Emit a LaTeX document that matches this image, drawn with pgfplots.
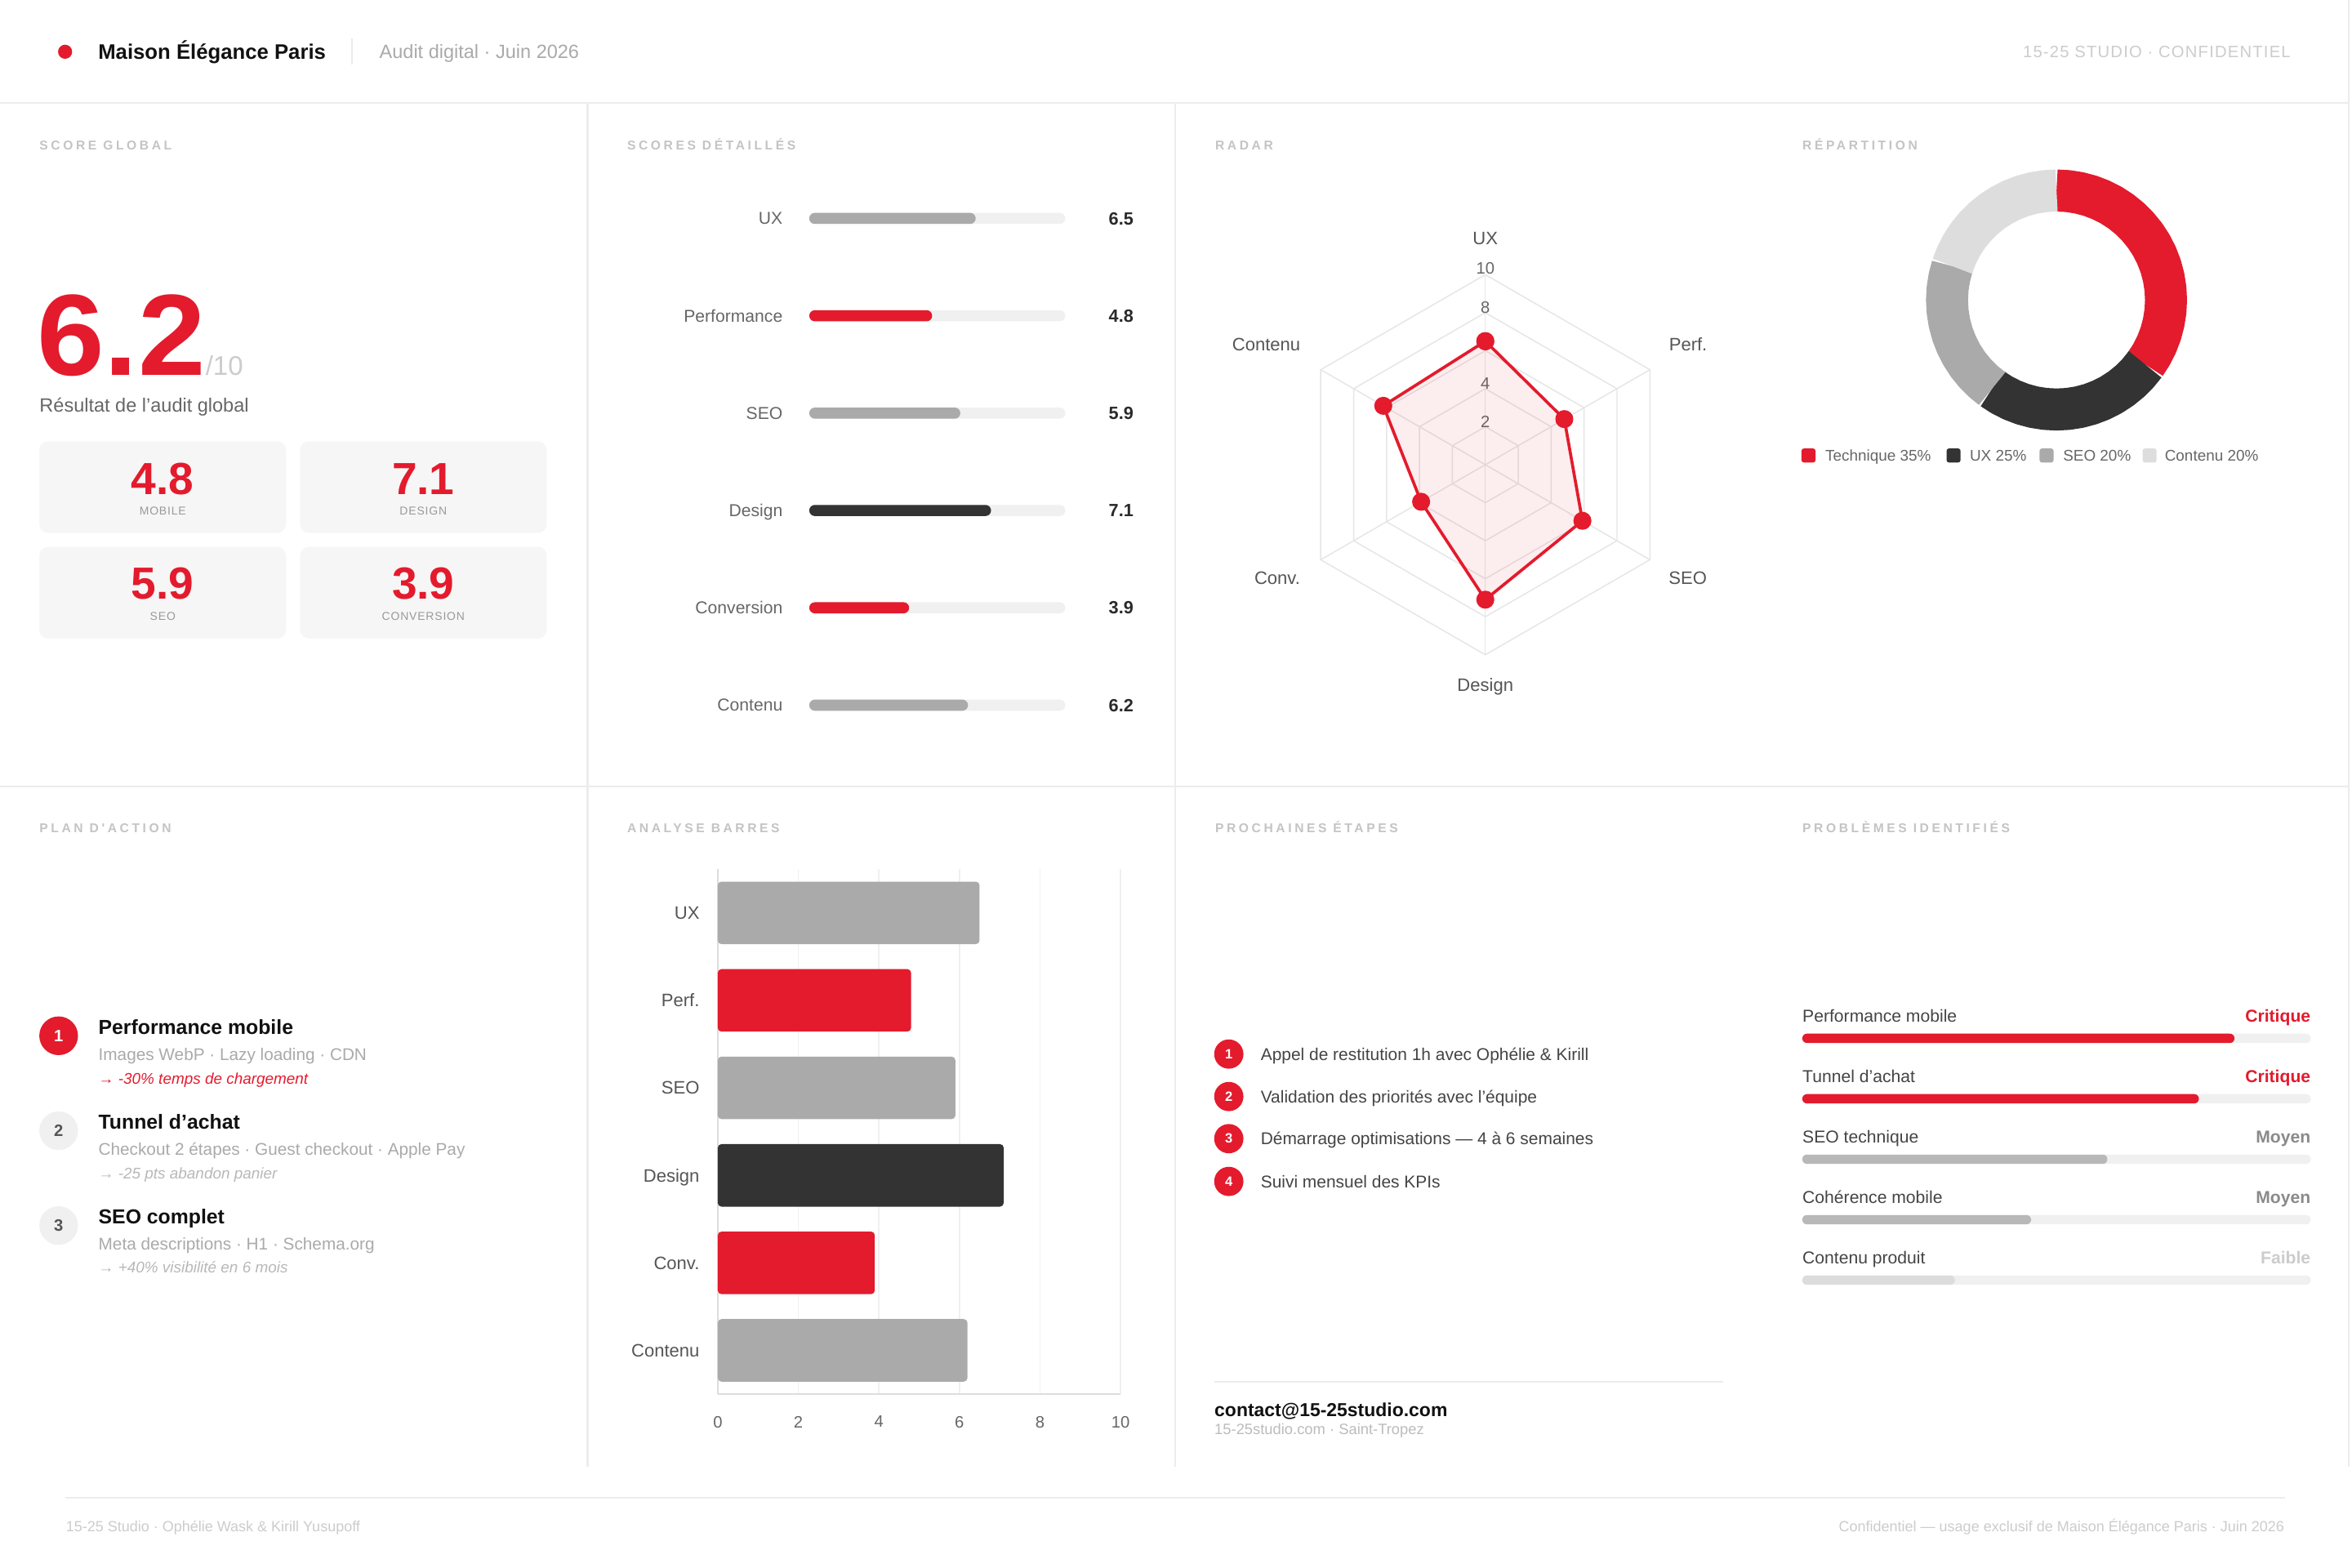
\documentclass[border=0pt]{standalone}
\usepackage{pgfplots}
\pgfplotsset{compat=1.18}
\usepgfplotslibrary{polar}
\usepackage{fontspec}
\setmainfont{Liberation Sans}
\newfontfamily\trk[LetterSpace=23]{Liberation Sans}
\newfontfamily\trks[LetterSpace=6]{Liberation Sans}
\newfontfamily\bigfont[FakeStretch=1.05]{Liberation Sans}
\newcommand\fs[1]{\fontsize{#1}{#1}\selectfont}
\definecolor{brand}{HTML}{E31B2D}
\definecolor{dark}{HTML}{333333}
\definecolor{midg}{HTML}{AAAAAA}
\definecolor{lightg}{HTML}{DDDDDD}
\definecolor{track}{HTML}{F0F0F0}
\definecolor{rule}{HTML}{ECECEC}
\definecolor{ttl}{HTML}{C4C4C4}
\definecolor{lab}{HTML}{666666}
\definecolor{lab5}{HTML}{555555}
\definecolor{txt}{HTML}{444444}
\definecolor{boxbg}{HTML}{F6F6F6}
\definecolor{subt}{HTML}{AAAAAA}
\definecolor{pale}{HTML}{CCCCCC}
\definecolor{ink}{HTML}{111111}
\definecolor{moy}{HTML}{B8B8B8}
\definecolor{fai}{HTML}{DCDCDC}
\definecolor{gridc}{HTML}{E6E6E6}
\definecolor{boxlab}{HTML}{999999}

\begin{document}
\begin{tikzpicture}[x=1pt,y=1pt,
  tx/.style={anchor=base west, inner sep=0pt},
  txe/.style={anchor=base east, inner sep=0pt},
  txc/.style={anchor=base, inner sep=0pt},
  ttlnode/.style={anchor=base west, inner sep=0pt, font=\trk\bfseries\fs{8.5}, text=ttl}]
\fill[white] (0,0) rectangle (1568,-1045);
\useasboundingbox (0,0) rectangle (1568,-1045);
% ---------- rules ----------
\draw[rule, line width=1.2pt] (0,-68.8) -- (1566,-68.8);
\draw[rule, line width=1.2pt] (0,-524.5) -- (1566,-524.5);
\draw[rule, line width=1.2pt] (391.7,-68.8) -- (391.7,-978);
\draw[rule, line width=1.2pt] (783.5,-68.8) -- (783.5,-978);
\draw[rule, line width=1.2pt] (1566,0) -- (1566,-978);
\draw[rule, line width=1pt] (43.8,-998.7) -- (1523.6,-998.7);
% ---------- header ----------
\fill[brand] (43.4,-34.5) circle (4.7);
\node[tx, font=\bfseries\fs{14}, text=ink] at (65.3,-39.6) {Maison Élégance Paris};
\draw[rule, line width=1pt] (234.8,-25.8) -- (234.8,-43);
\node[tx, font=\fs{12.8}, text=subt] at (252.8,-38.7) {Audit digital · Juin 2026};
\node[txe, font=\trks\fs{11}, text=pale] at (1527.2,-38.5) {15-25 STUDIO · CONFIDENTIEL};
% ---------- panel titles ----------
\node[ttlnode] at (26.2,-100) {SCORE GLOBAL};
\node[ttlnode] at (418,-100) {SCORES DÉTAILLÉS};
\node[ttlnode] at (810,-100) {RADAR};
\node[ttlnode] at (1201.5,-100) {RÉPARTITION};
\node[ttlnode] at (26.2,-555.2) {PLAN D'ACTION};
\node[ttlnode] at (418,-555.2) {ANALYSE BARRES};
\node[ttlnode] at (810,-555.2) {PROCHAINES ÉTAPES};
\node[ttlnode] at (1201.5,-555.2) {PROBLÈMES IDENTIFIÉS};
% ---------- score global ----------
\node[tx] at (24.5,-250) {\bigfont\fs{77}\bfseries\color{brand}6.2\normalfont\fs{18}\color{pale}/10};
\node[tx, font=\fs{12.8}, text=lab] at (26.2,-274.5) {Résultat de l'audit global};
\fill[boxbg, rounded corners=6pt] (26.2,-294.2) rectangle (190.7,-355.3);
\fill[boxbg, rounded corners=6pt] (200,-294.2) rectangle (364.5,-355.3);
\fill[boxbg, rounded corners=6pt] (26.2,-364.5) rectangle (190.7,-425.7);
\fill[boxbg, rounded corners=6pt] (200,-364.5) rectangle (364.5,-425.7);
\node[txc, font=\bfseries\fs{30}, text=brand] at (108.5,-329.4) {4.8};
\node[txc, font=\bfseries\fs{30}, text=brand] at (282.2,-329.4) {7.1};
\node[txc, font=\bfseries\fs{30}, text=brand] at (108.5,-399.3) {5.9};
\node[txc, font=\bfseries\fs{30}, text=brand] at (282.2,-399.3) {3.9};
\node[txc, font=\trks\fs{7.6}, text=boxlab] at (108.5,-343) {MOBILE};
\node[txc, font=\trks\fs{7.6}, text=boxlab] at (282.2,-343) {DESIGN};
\node[txc, font=\trks\fs{7.6}, text=boxlab] at (108.5,-413.6) {SEO};
\node[txc, font=\trks\fs{7.6}, text=boxlab] at (282.2,-413.6) {CONVERSION};

% ---------- scores detailles ----------
\begin{axis}[
  at={(539.5pt,-145.6pt)}, anchor=north west,
  scale only axis, width=170.7pt, height=324.5pt,
  xmin=0, xmax=10, ymin=0, ymax=5, y dir=reverse,
  clip=false, axis line style={draw=none}, major tick style={draw=none},
  xtick=\empty, ytick={0,1,2,3,4,5},
  yticklabels={UX,Performance,SEO,Design,Conversion,Contenu},
  yticklabel style={font=\fs{11.5}, text=lab, anchor=base east, inner sep=0pt, xshift=-13.3pt, yshift=-4.1pt},
  xbar, bar width=7.4pt, bar shift=0pt,
]
\addplot[fill=track, draw=none, rounded corners=3.7pt] coordinates {(10,0) (10,1) (10,2) (10,3) (10,4) (10,5)};
\addplot[fill=midg, draw=none, rounded corners=3.7pt] coordinates {(6.5,0) (5.9,2) (6.2,5)};
\addplot[fill=brand, draw=none, rounded corners=3.7pt] coordinates {(4.8,1) (3.9,4)};
\addplot[fill=dark, draw=none, rounded corners=3.7pt] coordinates {(7.1,3)};
\node[txe, font=\bfseries\fs{11.8}, text=ink!90, xshift=45.6pt, yshift=-4.2pt] at (axis cs:10,0) {6.5};
\node[txe, font=\bfseries\fs{11.8}, text=ink!90, xshift=45.6pt, yshift=-4.2pt] at (axis cs:10,1) {4.8};
\node[txe, font=\bfseries\fs{11.8}, text=ink!90, xshift=45.6pt, yshift=-4.2pt] at (axis cs:10,2) {5.9};
\node[txe, font=\bfseries\fs{11.8}, text=ink!90, xshift=45.6pt, yshift=-4.2pt] at (axis cs:10,3) {7.1};
\node[txe, font=\bfseries\fs{11.8}, text=ink!90, xshift=45.6pt, yshift=-4.2pt] at (axis cs:10,4) {3.9};
\node[txe, font=\bfseries\fs{11.8}, text=ink!90, xshift=45.6pt, yshift=-4.2pt] at (axis cs:10,5) {6.2};
\end{axis}

% ---------- radar ----------
\begin{polaraxis}[
  at={(990.2pt,-309.8pt)}, anchor=center,
  scale only axis, width=253.4pt, height=253.4pt,
  xmin=0, xmax=360, ymin=0, ymax=10, hide axis, clip=false,
]
\addplot[gridc, line width=0.8pt, mark=none] coordinates {(90,2)(30,2)(330,2)(270,2)(210,2)(150,2)(90,2)};
\addplot[gridc, line width=0.8pt, mark=none] coordinates {(90,4)(30,4)(330,4)(270,4)(210,4)(150,4)(90,4)};
\addplot[gridc, line width=0.8pt, mark=none] coordinates {(90,6)(30,6)(330,6)(270,6)(210,6)(150,6)(90,6)};
\addplot[gridc, line width=0.8pt, mark=none] coordinates {(90,8)(30,8)(330,8)(270,8)(210,8)(150,8)(90,8)};
\addplot[gridc, line width=0.8pt, mark=none] coordinates {(90,10)(30,10)(330,10)(270,10)(210,10)(150,10)(90,10)};
\addplot[gridc, line width=0.8pt, mark=none] coordinates {(90,10)(270,10)};
\addplot[gridc, line width=0.8pt, mark=none] coordinates {(30,10)(210,10)};
\addplot[gridc, line width=0.8pt, mark=none] coordinates {(150,10)(330,10)};
\node[inner sep=0pt, font=\fs{11}, text=lab, yshift=4.2pt] at (axis cs:90,10) {10};
\node[inner sep=0pt, font=\fs{11}, text=lab, yshift=3.6pt] at (axis cs:90,8) {8};
\node[inner sep=0pt, font=\fs{11}, text=lab, yshift=3.6pt] at (axis cs:90,6) {6};
\node[inner sep=0pt, font=\fs{11}, text=lab, yshift=3.6pt] at (axis cs:90,4) {4};
\node[inner sep=0pt, font=\fs{11}, text=lab, yshift=3.4pt] at (axis cs:90,2) {2};
\addplot[brand, line width=2pt, line join=round, fill=brand, fill opacity=0.08,
  mark=*, mark size=5pt, mark options={fill=brand, fill opacity=1, draw=brand}]
  coordinates {(90,6.5)(30,4.8)(330,5.9)(270,7.1)(210,3.9)(150,6.2)(90,6.5)};
\end{polaraxis}
\node[txc, font=\fs{12}, text=lab5] at (990.2,-162.9) {UX};
\node[txc, font=\fs{12}, text=lab5] at (1125.4,-233.6) {Perf.};
\node[txc, font=\fs{12}, text=lab5] at (1125.2,-389.8) {SEO};
\node[txc, font=\fs{12}, text=lab5] at (990.2,-460.6) {Design};
\node[txc, font=\fs{12}, text=lab5] at (851.5,-389.8) {Conv.};
\node[txc, font=\fs{12}, text=lab5] at (844.2,-233.6) {Contenu};

% ---------- donut ----------
\begin{polaraxis}[
  at={(1371pt,-200pt)}, anchor=center,
  scale only axis, width=174pt, height=174pt,
  xmin=0, xmax=360, ymin=0, ymax=87, hide axis, clip=false,
]
\addplot[brand, line width=28pt, line join=round, mark=none] coordinates {(450,73)(444,73)(438,73)(432,73)(426,73)(420,73)(414,73)(408,73)(402,73)(396,73)(390,73)(384,73)(378,73)(372,73)(366,73)(360,73)(354,73)(348,73)(342,73)(336,73)(330,73)(324,73)};
\addplot[dark, line width=28pt, line join=round, mark=none] coordinates {(324,73)(318,73)(312,73)(306,73)(300,73)(294,73)(288,73)(282,73)(276,73)(270,73)(264,73)(258,73)(252,73)(246,73)(240,73)(234,73)};
\addplot[midg, line width=28pt, line join=round, mark=none] coordinates {(234,73)(228,73)(222,73)(216,73)(210,73)(204,73)(198,73)(192,73)(186,73)(180,73)(174,73)(168,73)(162,73)};
\addplot[lightg, line width=28pt, line join=round, mark=none] coordinates {(162,73)(156,73)(150,73)(144,73)(138,73)(132,73)(126,73)(120,73)(114,73)(108,73)(102,73)(96,73)(90,73)};
\end{polaraxis}
\fill[brand, rounded corners=1.5pt] (1201,-299) rectangle (1210.3,-308.3);
\fill[dark, rounded corners=1.5pt] (1297.7,-299) rectangle (1307,-308.3);
\fill[midg, rounded corners=1.5pt] (1359.7,-299) rectangle (1369,-308.3);
\fill[lightg, rounded corners=1.5pt] (1428.4,-299) rectangle (1437.7,-308.3);
\node[tx, font=\fs{10.3}, text=lab] at (1216.7,-307.3) {Technique 35\%};
\node[tx, font=\fs{10.3}, text=lab] at (1313,-307.3) {UX 25\%};
\node[tx, font=\fs{10.3}, text=lab] at (1375.2,-307.3) {SEO 20\%};
\node[tx, font=\fs{10.3}, text=lab] at (1443,-307.3) {Contenu 20\%};

% ---------- plan d'action ----------
\fill[brand] (39.1,-690.5) circle (12.9);
\node[inner sep=0pt, font=\bfseries\fs{11}, text=white] at (39.1,-690.5) {1};
\fill[track] (39.1,-753.8) circle (12.9);
\node[inner sep=0pt, font=\bfseries\fs{11}, text=lab5] at (39.1,-753.8) {2};
\fill[track] (39.1,-817) circle (12.9);
\node[inner sep=0pt, font=\bfseries\fs{11}, text=lab5] at (39.1,-817) {3};
\node[tx, font=\bfseries\fs{13.5}, text=ink] at (65.5,-689.5) {Performance mobile};
\node[tx, font=\fs{11.3}, text=subt] at (65.5,-706.9) {Images WebP · Lazy loading · CDN};
\node[tx, font=\itshape\fs{10.3}, text=brand] at (65.5,-722.7) {→ -30\% temps de chargement};
\node[tx, font=\bfseries\fs{13.5}, text=ink] at (65.5,-752.7) {Tunnel d'achat};
\node[tx, font=\fs{11.3}, text=subt] at (65.5,-770) {Checkout 2 étapes · Guest checkout · Apple Pay};
\node[tx, font=\itshape\fs{10.3}, text=pale!90!black] at (65.5,-785.7) {→ -25 pts abandon panier};
\node[tx, font=\bfseries\fs{13.5}, text=ink] at (65.5,-816.1) {SEO complet};
\node[tx, font=\fs{11.3}, text=subt] at (65.5,-833.1) {Meta descriptions · H1 · Schema.org};
\node[tx, font=\itshape\fs{10.3}, text=pale!90!black] at (65.5,-848.7) {→ +40\% visibilité en 6 mois};

% ---------- analyse barres ----------
\begin{axis}[
  at={(478.5pt,-579.4pt)}, anchor=north west,
  scale only axis, width=268.5pt, height=350pt,
  xmin=0, xmax=10, ymin=-0.5, ymax=5.5, y dir=reverse,
  axis x line*=bottom, axis y line*=left,
  axis line style={draw=lightg, line width=0.9pt, -},
  xtick={0,2,4,6,8,10}, ytick={0,1,2,3,4,5},
  yticklabels={UX,Perf.,SEO,Design,Conv.,Contenu},
  major tick length=0pt,
  xmajorgrids, grid style={draw=track, line width=0.9pt},
  xticklabel style={font=\fs{11}, text=lab, inner sep=0pt, anchor=north, yshift=-14.5pt},
  yticklabel style={font=\fs{12}, text=lab5, anchor=base east, inner sep=0pt, xshift=-12pt, yshift=-4.3pt},
  /pgf/number format/assume math mode=true,
  xbar, bar width=41.7pt, bar shift=0pt, clip=false,
]
\addplot[fill=midg, draw=none, rounded corners=2.5pt] coordinates {(6.5,0) (5.9,2) (6.2,5)};
\addplot[fill=brand, draw=none, rounded corners=2.5pt] coordinates {(4.8,1) (3.9,4)};
\addplot[fill=dark, draw=none, rounded corners=2.5pt] coordinates {(7.1,3)};
\end{axis}

% ---------- prochaines etapes ----------
\fill[brand] (819.2,-702.7) circle (9.75);
\fill[brand] (819.2,-731) circle (9.75);
\fill[brand] (819.2,-759.1) circle (9.75);
\fill[brand] (819.2,-787.6) circle (9.75);
\node[inner sep=0pt, font=\bfseries\fs{9}, text=white] at (819.2,-702.7) {1};
\node[inner sep=0pt, font=\bfseries\fs{9}, text=white] at (819.2,-731) {2};
\node[inner sep=0pt, font=\bfseries\fs{9}, text=white] at (819.2,-759.1) {3};
\node[inner sep=0pt, font=\bfseries\fs{9}, text=white] at (819.2,-787.6) {4};
\node[tx, font=\fs{11.4}, text=txt] at (840.3,-706.8) {Appel de restitution 1h avec Ophélie \& Kirill};
\node[tx, font=\fs{11.4}, text=txt] at (840.3,-735.1) {Validation des priorités avec l'équipe};
\node[tx, font=\fs{11.4}, text=txt] at (840.3,-763.2) {Démarrage optimisations — 4 à 6 semaines};
\node[tx, font=\fs{11.4}, text=txt] at (840.3,-791.7) {Suivi mensuel des KPIs};
\draw[rule, line width=1pt] (809.5,-921) -- (1148.8,-921);
\node[tx, font=\bfseries\fs{12.5}, text=ink] at (809.5,-944.5) {contact@15-25studio.com};
\node[tx, font=\fs{10}, text=pale!92!black] at (809.5,-956.2) {15-25studio.com · Saint-Tropez};

% ---------- problemes identifies ----------
\begin{axis}[
  at={(1201.5pt,-692.2pt)}, anchor=north west,
  scale only axis, width=339pt, height=161.2pt,
  xmin=0, xmax=100, ymin=0, ymax=4, y dir=reverse,
  hide axis, clip=false,
  xbar, bar width=6.2pt, bar shift=0pt,
]
\addplot[fill=track, draw=none, rounded corners=3.1pt] coordinates {(100,0) (100,1) (100,2) (100,3) (100,4)};
\addplot[fill=brand, draw=none, rounded corners=3.1pt] coordinates {(85,0) (78,1)};
\addplot[fill=moy, draw=none, rounded corners=3.1pt] coordinates {(60,2) (45,3)};
\addplot[fill=fai, draw=none, rounded corners=3.1pt] coordinates {(30,4)};
\end{axis}
\node[tx, font=\fs{11.5}, text=txt] at (1201.5,-681.1) {Performance mobile};
\node[tx, font=\fs{11.5}, text=txt] at (1201.5,-721.4) {Tunnel d'achat};
\node[tx, font=\fs{11.5}, text=txt] at (1201.5,-761.8) {SEO technique};
\node[tx, font=\fs{11.5}, text=txt] at (1201.5,-802.1) {Cohérence mobile};
\node[tx, font=\fs{11.5}, text=txt] at (1201.5,-842.4) {Contenu produit};
\node[txe, font=\bfseries\fs{11.5}, text=brand] at (1540.5,-681.1) {Critique};
\node[txe, font=\bfseries\fs{11.5}, text=brand] at (1540.5,-721.4) {Critique};
\node[txe, font=\bfseries\fs{11.5}, text=boxlab!90!black] at (1540.5,-761.8) {Moyen};
\node[txe, font=\bfseries\fs{11.5}, text=boxlab!90!black] at (1540.5,-802.1) {Moyen};
\node[txe, font=\bfseries\fs{11.5}, text=pale] at (1540.5,-842.4) {Faible};

% ---------- footer ----------
\node[tx, font=\fs{9.8}, text=pale] at (43.8,-1021) {15-25 Studio · Ophélie Wask \& Kirill Yusupoff};
\node[txe, font=\fs{9.8}, text=pale] at (1523,-1021) {Confidentiel — usage exclusif de Maison Élégance Paris · Juin 2026};
\end{tikzpicture}
\end{document}
